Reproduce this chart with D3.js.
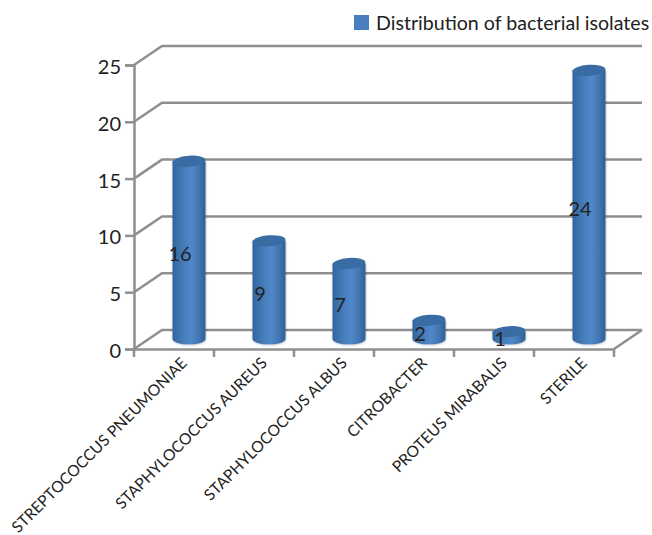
<!DOCTYPE html>
<html>
<head>
<meta charset="utf-8">
<script src="https://cdn.jsdelivr.net/npm/d3@7"></script>
<style>
  html, body { margin: 0; padding: 0; background: #fff; }
  text { font-family: Lato, "Open Sans", sans-serif; fill: #222; }
</style>
</head>
<body>
<div id="chart"></div>
<script>
const categories = ["STREPTOCOCCUS PNEUMONIAE", "STAPHYLOCOCCUS AUREUS", "STAPHYLOCOCCUS ALBUS", "CITROBACTER", "PROTEUS MIRABALIS", "STERILE"];
const isolates = [16, 9, 7, 2, 1, 24];
const yTicks = [0, 5, 10, 15, 20, 25];
const seriesName = "Distribution of bacterial isolates";

const width = 652, height = 535;
const plotLeft = 134, plotRight = 614, plotBottom = 349, plotTop = 65;
// depth of the fake 3d floor
const depthX = 28, depthY = -19;
// bars stand in the middle of the floor
const barDx = 15, capDy = -6, baseDy = -10, barW = 33, capRy = 5.5;
const gridColor = "#8f8f8f";

const svg = d3.select("#chart").append("svg")
    .attr("width", width)
    .attr("height", height)
    .style("display", "block");

const x = d3.scaleBand().domain(categories).range([plotLeft, plotRight]);
const y = d3.scaleLinear().domain([0, 25]).range([plotBottom, plotTop]);

const defs = svg.append("defs");
const grad = defs.append("linearGradient").attr("id", "barFill");
[[0, "#31639a"], [0.2, "#3f73ae"], [0.55, "#5088ca"], [0.8, "#4277b3"], [1, "#2e5e92"]].forEach(s => {
    grad.append("stop").attr("offset", s[0]).attr("stop-color", s[1]);
});
const shadow = defs.append("filter").attr("id", "barShadow")
    .attr("x", "-20%").attr("width", "140%").attr("y", "-5%").attr("height", "115%");
shadow.append("feDropShadow")
    .attr("dx", 0.5).attr("dy", 0.5).attr("stdDeviation", 0.8)
    .attr("flood-color", "#000").attr("flood-opacity", 0.25);

// Back wall gridlines and the slanted side wall
const grid = svg.append("g")
    .attr("stroke", gridColor)
    .attr("stroke-width", 2.5)
    .attr("fill", "none");
grid.selectAll("path")
    .data(yTicks)
    .join("path")
    .attr("d", d => `M${plotLeft},${y(d)}L${plotLeft + depthX},${y(d) + depthY}L${plotRight + depthX},${y(d) + depthY}`);
grid.append("path")
    .attr("d", `M${plotRight},${plotBottom}L${plotRight + depthX},${plotBottom + depthY}`);

// Axes
const yAxis = d3.axisLeft(y).tickValues(yTicks).tickSize(9).tickPadding(4);
const gy = svg.append("g").attr("transform", `translate(${plotLeft},0)`).call(yAxis);
gy.selectAll(".tick text")
    .attr("dy", "0.42em")
    .style("font-size", "20px");

const xAxis = d3.axisBottom(x).tickValues([]).tickSizeOuter(0);
const gx = svg.append("g").attr("transform", `translate(0,${plotBottom})`).call(xAxis);
gx.selectAll("line.sep")
    .data(d3.range(categories.length + 1))
    .join("line")
    .attr("class", "sep")
    .attr("x1", d => plotLeft + d * x.bandwidth())
    .attr("x2", d => plotLeft + d * x.bandwidth())
    .attr("y1", 0)
    .attr("y2", 8);

svg.selectAll(".domain, .tick line, line.sep")
    .attr("stroke", gridColor)
    .attr("stroke-width", 2.5);

gx.selectAll("text.cat")
    .data(categories)
    .join("text")
    .attr("class", "cat")
    .attr("text-anchor", "end")
    .attr("transform", d => `translate(${x(d) + x.bandwidth() / 2 + 14},15) rotate(-45)`)
    .style("font-size", "15.7px")
    .text(d => d);

// Cylinders
const rows = categories.map((c, i) => ({ c, v: isolates[i] }));
const bars = svg.append("g").selectAll("g")
    .data(rows)
    .join("g")
    .attr("transform", d => `translate(${x(d.c) + x.bandwidth() / 2 + barDx},0)`);

bars.append("path")
    .attr("fill", "url(#barFill)")
    .attr("filter", "url(#barShadow)")
    .attr("d", d => {
        const t = y(d.v) + capDy, b = y(0) + baseDy, r = barW / 2;
        return `M${-r},${t}L${-r},${b}A${r},${capRy} 0 0 0 ${r},${b}L${r},${t}Z`;
    });
bars.append("ellipse")
    .attr("transform", d => `translate(0,${y(d.v) + capDy}) rotate(-4)`)
    .attr("rx", barW / 2)
    .attr("ry", capRy)
    .attr("fill", "#3a6ca4");

// Value labels sit at the left side of each bar, half way up
bars.append("text")
    .attr("x", -9)
    .attr("y", d => (y(d.v) + y(0)) / 2 + 3)
    .attr("text-anchor", "middle")
    .style("font-size", "20px")
    .text(d => d.v);

// Legend
const legend = svg.append("g").attr("transform", "translate(354,15)");
legend.append("rect")
    .attr("width", 15)
    .attr("height", 15)
    .attr("fill", "#4a7ebf");
legend.append("text")
    .attr("x", 22)
    .attr("y", 15)
    .style("font-size", "19.6px")
    .text(seriesName);
</script>
</body>
</html>
